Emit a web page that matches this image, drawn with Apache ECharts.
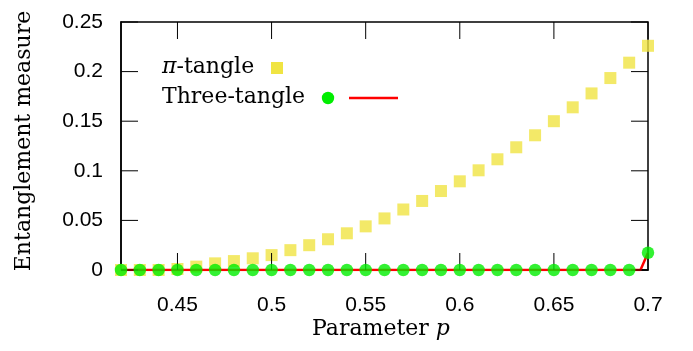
<!DOCTYPE html>
<html><head><meta charset="utf-8">
<script src="https://cdn.jsdelivr.net/npm/echarts@6/dist/echarts.min.js"></script>
<style>html,body{margin:0;padding:0;background:#fff}#c{width:693px;height:351px}</style>
</head><body><div id="c"></div>
<script>
const pValues = [0.42,0.43,0.44,0.45,0.46,0.47,0.48,0.49,0.50,0.51,0.52,0.53,0.54,0.55,0.56,0.57,0.58,0.59,0.60,0.61,0.62,0.63,0.64,0.65,0.66,0.67,0.68,0.69,0.70];
const piTangle = [0,0,0,0.001,0.0034,0.0067,0.009,0.0118,0.015,0.020,0.025,0.031,0.037,0.044,0.052,0.061,0.0696,0.0796,0.0894,0.1005,0.1116,0.1237,0.1358,0.150,0.164,0.178,0.1935,0.209,0.226];
const threeTangle = [0,0,0,0,0,0,0,0,0,0,0,0,0,0,0,0,0,0,0,0,0,0,0,0,0,0,0,0,0.0174];
const threeCurveX = [0.42,0.696,0.70];
const threeCurveY = [0,0,0.0174];
const xTickValues = [0.45,0.5,0.55,0.6,0.65,0.7];
const yTickValues = [0,0.05,0.1,0.15,0.2,0.25];
const xMin = 0.42, xMax = 0.70, yMin = 0, yMax = 0.25;

const chart = echarts.init(document.getElementById('c'), null, {renderer:'canvas'});
const sans = 'Liberation Sans';
const serif = 'DejaVu Serif';
const TICK = 17;
const zip = (a,b)=>a.map((v,i)=>[v,b[i]]);
const fmt = v=>String(+(+v).toFixed(2));

const legendGraphics = [
  {type:'text', x:24, y:141, rotation:Math.PI/2, z:10,
   style:{text:'Entanglement measure', font:'22px "DejaVu Serif"', fill:'#000', align:'center', verticalAlign:'middle'}},
  {type:'text', x:381, y:329, z:10,
   style:{text:'{a|Parameter }{b|p}', align:'center', verticalAlign:'middle', fill:'#000',
     rich:{a:{fontFamily:serif, fontSize:22, fill:'#000'}, b:{fontFamily:serif, fontStyle:'italic', fontSize:22, fill:'#000'}}}},
  {type:'text', x:162, y:67, z:10,
   style:{text:'{b|π}{a|-tangle}', align:'left', verticalAlign:'middle', fill:'#000',
     rich:{a:{fontFamily:serif, fontSize:22, fill:'#000'}, b:{fontFamily:serif, fontStyle:'italic', fontSize:22, fill:'#000'}}}},
  {type:'text', x:162, y:97, z:10,
   style:{text:'Three-tangle', font:'22px "DejaVu Serif"', fill:'#000', align:'left', verticalAlign:'middle'}},
  {type:'rect', z:10, shape:{x:271, y:62, width:12, height:12}, style:{fill:'#F0E442'}},
  {type:'circle', z:10, shape:{cx:328, cy:98, r:6.2}, style:{fill:'#00EE00'}},
  {type:'line', z:10, shape:{x1:349, y1:98, x2:398, y2:98}, style:{stroke:'#FF0000', lineWidth:2.5}}
];

chart.setOption({
  animation:false,
  grid:{left:121, right:45, top:22, bottom:81, containLabel:false, show:true, borderColor:'#000', borderWidth:1.5, backgroundColor:'transparent'},
  xAxis:{type:'value', min:xMin, max:xMax, position:'bottom',
     axisLine:{show:true, onZero:false, lineStyle:{color:'#000', width:1.5}}, splitLine:{show:false},
     axisTick:{show:false},
     axisLabel:{customValues:xTickValues, margin:25, color:'#000', fontFamily:sans, fontSize:21, formatter:fmt}},
  yAxis:{type:'value', min:yMin, max:yMax, position:'left',
     axisLine:{show:true, onZero:false, lineStyle:{color:'#000', width:1.5}}, splitLine:{show:false},
     axisTick:{show:false},
     axisLabel:{customValues:yTickValues, margin:18, color:'#000', fontFamily:sans, fontSize:21, formatter:fmt}},
  series:[
    {name:'π-tangle', type:'scatter', z:1, symbol:'rect', symbolSize:12,
     itemStyle:{color:'#F0E442'}, data:zip(pValues, piTangle)},
    {name:'Three-tangle line', type:'line', z:2, symbol:'none',
     lineStyle:{color:'#FF0000', width:2.5}, data:zip(threeCurveX, threeCurveY)},
    {name:'Three-tangle', type:'scatter', z:6, symbol:'circle', symbolSize:12.5,
     itemStyle:{color:'#00EE00'}, data:zip(pValues, threeTangle)}
  ],
  graphic:legendGraphics
});

try {
  const ticks = [];
  const px = (x,y)=>chart.convertToPixel({gridIndex:0}, [x,y]);
  const addTick = (p, dx, dy)=>ticks.push({type:'line', z:5, silent:true,
    shape:{x1:p[0], y1:p[1], x2:p[0]+dx, y2:p[1]+dy}, style:{stroke:'#000', lineWidth:1}});
  xTickValues.forEach(v=>{ addTick(px(v,yMin),0,-TICK); addTick(px(v,yMax),0,TICK); });
  yTickValues.forEach(v=>{ addTick(px(xMin,v),TICK,0); addTick(px(xMax,v),-TICK,0); });
  chart.setOption({graphic: legendGraphics.concat(ticks)});
} catch(e) { console.error(e); }
</script>
</body></html>
